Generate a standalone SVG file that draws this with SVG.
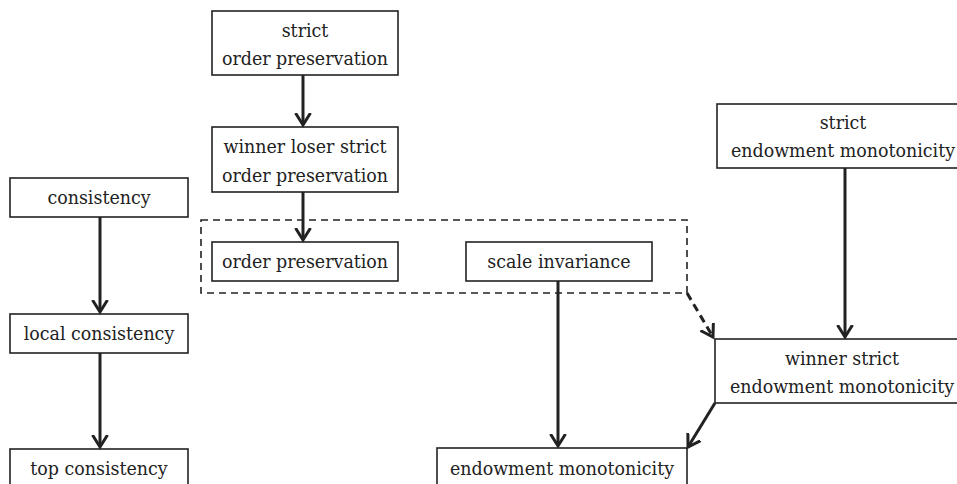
<svg xmlns="http://www.w3.org/2000/svg" width="957" height="484" viewBox="0 0 957 484">
<style>
.box{fill:#fff;stroke:#222;stroke-width:1.6}
text{font-family:"DejaVu Serif Condensed","DejaVu Serif",serif;font-stretch:condensed;font-size:19.4px;fill:#222;text-anchor:middle}
.edge{stroke:#222;stroke-width:3;fill:none}
.dash{stroke:#222;stroke-width:1.6;fill:none;stroke-dasharray:7,5}
.dashedge{stroke:#222;stroke-width:3;fill:none;stroke-dasharray:8,5}
</style>
<defs>
<marker id="ah" markerUnits="userSpaceOnUse" markerWidth="24" markerHeight="24" viewBox="-12 -12 24 24" refX="0" refY="0" orient="auto">
<path d="M-12,-7.5 L0,0 L-12,7.5" fill="none" stroke="#222" stroke-width="3"/>
</marker>
</defs>
<rect id="group-box" class="dash" x="201" y="220" width="486" height="73"/>
<g id="n-strict-op"><rect class="box" x="212" y="11" width="186" height="64"/><text x="305" y="37">strict</text><text x="305" y="65">order preservation</text></g>
<g id="n-wl-op"><rect class="box" x="212" y="127" width="186" height="65"/><text x="305" y="153">winner loser strict</text><text x="305" y="182">order preservation</text></g>
<g id="n-consistency"><rect class="box" x="10" y="178" width="178" height="39"/><text x="99" y="204">consistency</text></g>
<g id="n-op"><rect class="box" x="212" y="242" width="186" height="39"/><text x="305" y="268">order preservation</text></g>
<g id="n-si"><rect class="box" x="466" y="242" width="186" height="39"/><text x="559" y="268">scale invariance</text></g>
<g id="n-sem"><rect class="box" x="717" y="104" width="254" height="64"/><text x="843" y="129">strict</text><text x="843" y="157">endowment monotonicity</text></g>
<g id="n-lc"><rect class="box" x="10" y="314" width="178" height="39"/><text x="99" y="340">local consistency</text></g>
<g id="n-wsem"><rect class="box" x="715" y="339" width="256" height="64"/><text x="842" y="365">winner strict</text><text x="842" y="393">endowment monotonicity</text></g>
<g id="n-tc"><rect class="box" x="10" y="449" width="178" height="40"/><text x="99" y="475">top consistency</text></g>
<g id="n-em"><rect class="box" x="437" y="448" width="250" height="40"/><text x="562" y="475">endowment monotonicity</text></g>
<g id="connectors">
<line class="edge" x1="303" y1="75" x2="303" y2="125" marker-end="url(#ah)"/>
<line class="edge" x1="303" y1="192" x2="303" y2="240" marker-end="url(#ah)"/>
<line class="edge" x1="100" y1="217" x2="100" y2="312" marker-end="url(#ah)"/>
<line class="edge" x1="100" y1="353" x2="100" y2="447" marker-end="url(#ah)"/>
<line class="edge" x1="558" y1="281" x2="558" y2="446" marker-end="url(#ah)"/>
<line class="edge" x1="845" y1="168" x2="845" y2="337" marker-end="url(#ah)"/>
<line class="dashedge" x1="687" y1="293" x2="713" y2="337" marker-end="url(#ah)"/>
<line class="edge" x1="715" y1="403" x2="688" y2="447" marker-end="url(#ah)"/>
</g>
</svg>
